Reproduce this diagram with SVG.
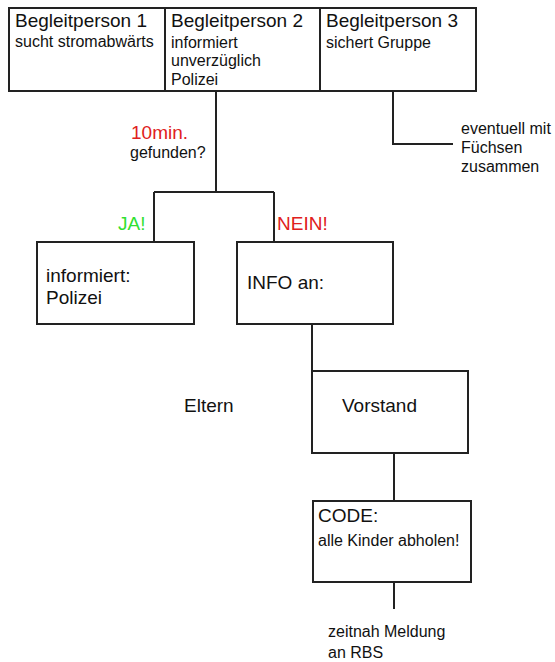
<svg xmlns="http://www.w3.org/2000/svg" width="555" height="662" viewBox="0 0 555 662">
<style>
.box{fill:#fff;stroke:#222;stroke-width:2}
.ln{fill:none;stroke:#222;stroke-width:2}
text{font-family:"Liberation Sans",Arial,sans-serif;fill:#111}
.t{font-size:19px}
.s{font-size:16px}
.red{fill:#e02020}
.green{fill:#30e030}
</style>
<rect width="555" height="662" fill="#fff"/>
<g id="connectors">
<path class="ln" d="M216 91V192M154 192H274M154 192V242M274 192V242"/>
<path class="ln" d="M393 91V144H453"/>
<path class="ln" d="M312 324V371"/>
<path class="ln" d="M394 453V501"/>
<path class="ln" d="M394 582V609"/>
</g>
<g id="bp1"><rect class="box" x="9" y="8" width="156" height="83"/>
<text class="t" x="15" y="27">Begleitperson 1</text>
<text class="s" x="15" y="47">sucht stromabwärts</text></g>
<g id="bp2"><rect class="box" x="165" y="8" width="155" height="83"/>
<text class="t" x="171" y="27">Begleitperson 2</text>
<text class="s" x="171" y="48">informiert</text>
<text class="s" x="171" y="66">unverzüglich</text>
<text class="s" x="171" y="85">Polizei</text></g>
<g id="bp3"><rect class="box" x="320" y="8" width="156" height="83"/>
<text class="t" x="326" y="27">Begleitperson 3</text>
<text class="s" x="326" y="48">sichert Gruppe</text></g>
<g id="q"><text class="t red" x="131" y="139">10min.</text>
<text class="s" x="130" y="158">gefunden?</text></g>
<g id="fuechse"><text class="s" x="461" y="134">eventuell mit</text>
<text class="s" x="461" y="153">Füchsen</text>
<text class="s" x="461" y="172">zusammen</text></g>
<g id="ja"><text class="t green" x="118" y="230">JA!</text></g>
<g id="nein"><text class="t red" x="277" y="230">NEIN!</text></g>
<g id="polizei"><rect class="box" x="37" y="242" width="157" height="82"/>
<text class="t" x="46" y="282">informiert:</text>
<text class="t" x="46" y="304">Polizei</text></g>
<g id="info"><rect class="box" x="237" y="242" width="156" height="82"/>
<text class="t" x="247" y="289">INFO an:</text></g>
<g id="eltern"><text class="t" x="184" y="412">Eltern</text></g>
<g id="vorstand"><rect class="box" x="312" y="371" width="156" height="82"/>
<text class="t" x="342" y="412">Vorstand</text></g>
<g id="code"><rect class="box" x="313" y="501" width="158" height="81"/>
<text class="t" x="318" y="522">CODE:</text>
<text class="s" x="318" y="546">alle Kinder abholen!</text></g>
<g id="meldung"><text class="s" x="328" y="637">zeitnah Meldung</text>
<text class="s" x="328" y="658">an RBS</text></g>
</svg>
